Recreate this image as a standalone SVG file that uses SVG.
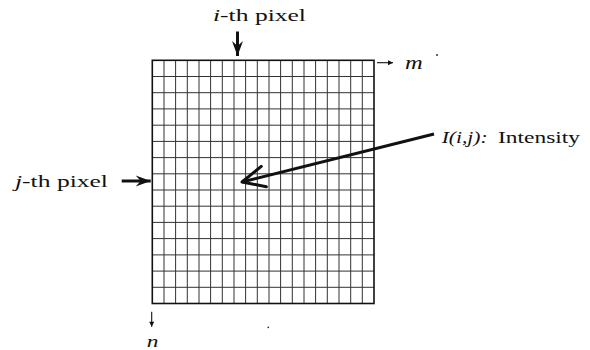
<svg xmlns="http://www.w3.org/2000/svg" width="590" height="350" viewBox="0 0 590 350">
  <style>
    .lbl { font-family: "Liberation Serif", "Times New Roman", serif; fill: #111; }
    .it { font-style: italic; }
    .grid-outer { fill: none; stroke: #111; stroke-width: 1.6; }
    .grid-inner { fill: none; stroke: #333; stroke-width: 1; }
    .bold { fill: none; stroke: #111; stroke-width: 3; }
    .thin { fill: none; stroke: #111; stroke-width: 1.1; }
    .dot { fill: #333; }
  </style>
  <defs>
    <marker id="chev" markerUnits="userSpaceOnUse" viewBox="-16 -7 17 14" refX="0" refY="0" markerWidth="17" markerHeight="14" orient="auto" overflow="visible">
      <path d="M-15,-5.5 L0,0 L-15,5.5 L-10,0 Z" fill="#111"/>
    </marker>
    <marker id="vhead" markerUnits="userSpaceOnUse" viewBox="-24 -12 26 24" refX="0" refY="0" markerWidth="26" markerHeight="24" orient="auto" overflow="visible">
      <path d="M-22.5,-10.5 L0,0 L-22.5,10.5" fill="none" stroke="#111" stroke-width="3" stroke-linecap="round" stroke-linejoin="round"/>
    </marker>
    <marker id="small" markerUnits="userSpaceOnUse" viewBox="-6 -4 7 8" refX="0" refY="0" markerWidth="7" markerHeight="8" orient="auto" overflow="visible">
      <path d="M-5,-2.5 L0,0 L-5,2.5 Z" fill="#111"/>
    </marker>
  </defs>

  <rect width="590" height="350" fill="#fff"/>

  <g id="pixel-grid">
    <path class="grid-inner" d="M164,60.3V303.5 M175.6,60.3V303.5 M187.3,60.3V303.5 M199,60.3V303.5 M210.6,60.3V303.5 M222.3,60.3V303.5 M234,60.3V303.5 M245.6,60.3V303.5 M257.3,60.3V303.5 M269,60.3V303.5 M280.6,60.3V303.5 M292.3,60.3V303.5 M304,60.3V303.5 M315.6,60.3V303.5 M327.3,60.3V303.5 M339,60.3V303.5 M350.7,60.3V303.5 M362.3,60.3V303.5 M152.3,76.5H374 M152.3,92.7H374 M152.3,108.9H374 M152.3,125.2H374 M152.3,141.4H374 M152.3,157.6H374 M152.3,173.8H374 M152.3,190H374 M152.3,206.2H374 M152.3,222.4H374 M152.3,238.6H374 M152.3,254.9H374 M152.3,271.1H374 M152.3,287.3H374"/>
    <rect class="grid-outer" x="152.3" y="60.3" width="221.7" height="243.2"/>
  </g>

  <g id="label-i-th">
    <text class="lbl" x="213" y="21" font-size="17" textLength="93" lengthAdjust="spacingAndGlyphs"><tspan class="it">i</tspan>-th pixel</text>
  </g>
  <g id="label-j-th">
    <text class="lbl" x="15" y="187" font-size="17" textLength="93" lengthAdjust="spacingAndGlyphs"><tspan class="it">j</tspan>-th pixel</text>
  </g>
  <g id="label-m">
    <text class="lbl it" x="405" y="69" font-size="18" textLength="17.7" lengthAdjust="spacingAndGlyphs">m</text>
  </g>
  <g id="label-n">
    <text class="lbl it" x="146.7" y="347" font-size="16" textLength="11.7" lengthAdjust="spacingAndGlyphs">n</text>
  </g>
  <g id="label-intensity">
    <text class="lbl" y="142.7" font-size="17"><tspan class="it" x="441.7" textLength="46" lengthAdjust="spacingAndGlyphs">I(i,j):</tspan><tspan x="498" textLength="82" lengthAdjust="spacingAndGlyphs">Intensity</tspan></text>
  </g>

  <g id="connectors">
    <path class="bold" d="M237.5,31.5 V56" marker-end="url(#chev)"/>
    <path class="bold" d="M121.7,181 H150.7" marker-end="url(#chev)"/>
    <path class="bold" d="M434,134 L242,182" marker-end="url(#vhead)"/>
    <path class="thin" d="M377,62.7 H393" marker-end="url(#small)"/>
    <path class="thin" d="M151.7,311.7 V326.7" marker-end="url(#small)"/>
  </g>

  <circle class="dot" cx="437" cy="55" r="1"/>
  <circle class="dot" cx="268.3" cy="327.3" r="0.9"/>
</svg>
